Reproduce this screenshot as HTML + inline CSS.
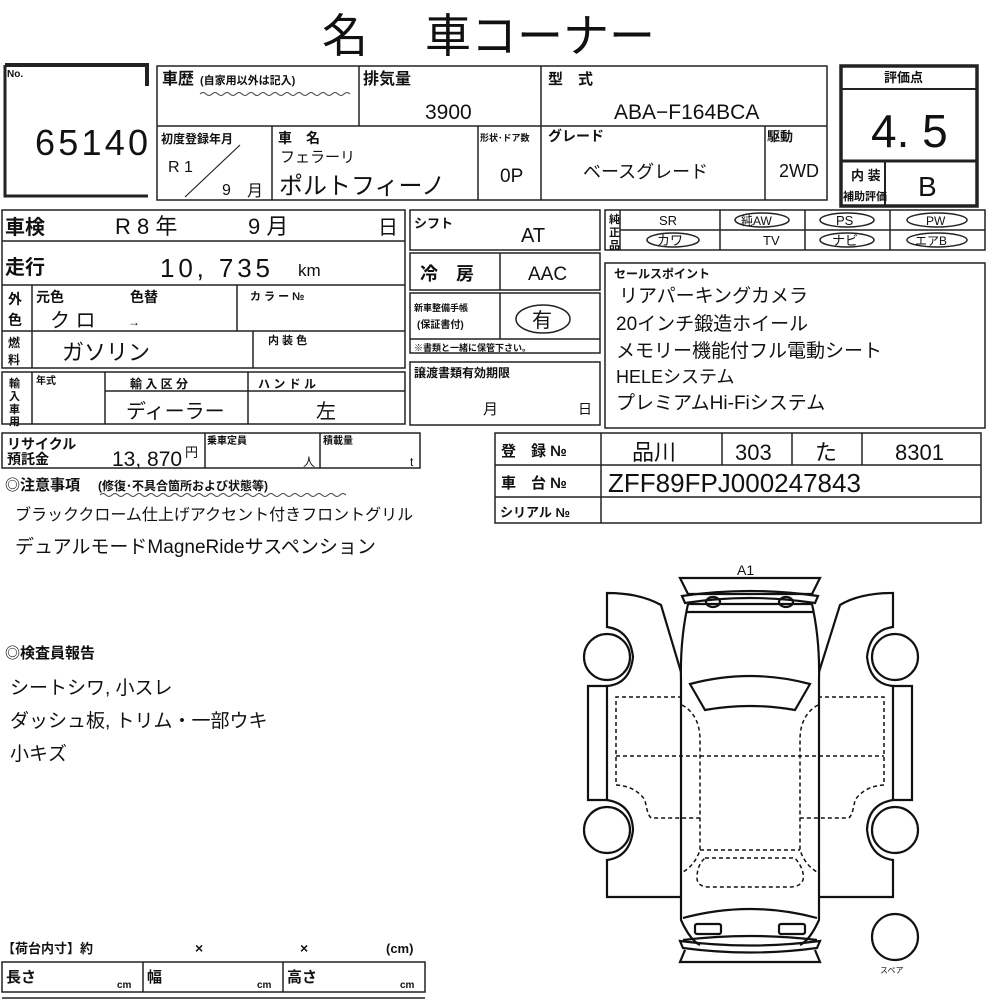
<!DOCTYPE html>
<html><head><meta charset="utf-8"><style>
html,body{margin:0;padding:0;background:#fff;}
svg{display:block}
text{font-family:"Liberation Sans","Noto Sans CJK JP",sans-serif;fill:#111}
.b{font-weight:bold}
</style></head><body>
<svg width="1000" height="1000" viewBox="0 0 1000 1000" xmlns="http://www.w3.org/2000/svg">
<g stroke="#222" fill="none" stroke-width="1.5">
<path d="M5 65 H147 V86" stroke-width="4"/>
<path d="M5 65 V196 H148" stroke-width="3"/>
<rect x="157" y="66" width="670" height="134"/>
<line x1="157" y1="126" x2="827" y2="126"/>
<line x1="359" y1="66" x2="359" y2="126"/>
<line x1="541" y1="66" x2="541" y2="200"/>
<line x1="272" y1="126" x2="272" y2="200"/>
<line x1="478" y1="126" x2="478" y2="200"/>
<line x1="765" y1="126" x2="765" y2="200"/>
<line x1="185" y1="197" x2="240" y2="145" stroke-width="1.2"/>
<rect x="841" y="66" width="136" height="140" stroke-width="3.5"/>
<line x1="841" y1="89" x2="977" y2="89" stroke-width="2"/>
<line x1="841" y1="161" x2="977" y2="161" stroke-width="3"/>
<line x1="885" y1="161" x2="885" y2="206" stroke-width="2"/>
<rect x="2" y="210" width="403" height="158"/>
<line x1="2" y1="241" x2="405" y2="241"/>
<line x1="2" y1="285" x2="405" y2="285"/>
<line x1="2" y1="331" x2="405" y2="331"/>
<line x1="32" y1="285" x2="32" y2="368"/>
<line x1="237" y1="285" x2="237" y2="331"/>
<line x1="253" y1="331" x2="253" y2="368"/>
<rect x="2" y="372" width="403" height="52"/>
<line x1="32" y1="372" x2="32" y2="424"/>
<line x1="105" y1="372" x2="105" y2="424"/>
<line x1="248" y1="372" x2="248" y2="424"/>
<line x1="105" y1="391" x2="405" y2="391"/>
<rect x="410" y="210" width="190" height="40"/>
<rect x="410" y="253" width="190" height="37"/>
<line x1="500" y1="253" x2="500" y2="290"/>
<rect x="410" y="293" width="190" height="60"/>
<line x1="410" y1="339" x2="600" y2="339"/>
<line x1="500" y1="293" x2="500" y2="339"/>
<ellipse cx="543" cy="319" rx="27" ry="14"/>
<rect x="410" y="362" width="190" height="63"/>
<rect x="605" y="210" width="380" height="40"/>
<line x1="620" y1="230" x2="985" y2="230"/>
<line x1="620" y1="210" x2="620" y2="250"/>
<line x1="720" y1="210" x2="720" y2="250"/>
<line x1="805" y1="210" x2="805" y2="250"/>
<line x1="890" y1="210" x2="890" y2="250"/>
<ellipse cx="762" cy="220" rx="27" ry="7"/>
<ellipse cx="847" cy="220" rx="27" ry="7"/>
<ellipse cx="937" cy="220" rx="30" ry="7"/>
<ellipse cx="673" cy="240" rx="26" ry="7"/>
<ellipse cx="847" cy="240" rx="27" ry="7"/>
<ellipse cx="937" cy="240" rx="30" ry="7"/>
<rect x="605" y="263" width="380" height="165"/>
<rect x="2" y="433" width="418" height="35"/>
<line x1="205" y1="433" x2="205" y2="468"/>
<line x1="320" y1="433" x2="320" y2="468"/>
<rect x="495" y="433" width="486" height="90"/>
<line x1="495" y1="465" x2="981" y2="465"/>
<line x1="495" y1="497" x2="981" y2="497"/>
<line x1="601" y1="433" x2="601" y2="523"/>
<line x1="722" y1="433" x2="722" y2="465"/>
<line x1="792" y1="433" x2="792" y2="465"/>
<line x1="862" y1="433" x2="862" y2="465"/>
<rect x="2" y="962" width="423" height="30"/>
<line x1="143" y1="962" x2="143" y2="992"/>
<line x1="283" y1="962" x2="283" y2="992"/>
<line x1="2" y1="998" x2="425" y2="998"/>
</g>
<path d="M200 94 q3 -3 6 0 t6 0 t6 0 t6 0 t6 0 t6 0 t6 0 t6 0 t6 0 t6 0 t6 0 t6 0 t6 0 t6 0 t6 0 t6 0 t6 0 t6 0 t6 0 t6 0 t6 0 t6 0 t6 0 t6 0 t6 0" stroke="#444" fill="none" stroke-width="1"/>
<path d="M100 495 q3 -3 6 0 t6 0 t6 0 t6 0 t6 0 t6 0 t6 0 t6 0 t6 0 t6 0 t6 0 t6 0 t6 0 t6 0 t6 0 t6 0 t6 0 t6 0 t6 0 t6 0 t6 0 t6 0 t6 0 t6 0 t6 0 t6 0 t6 0 t6 0 t6 0 t6 0 t6 0 t6 0 t6 0 t6 0 t6 0 t6 0 t6 0 t6 0 t6 0 t6 0 t6 0" stroke="#444" fill="none" stroke-width="1"/>

<text x="322" y="52" font-size="46">名</text>
<text x="425" y="52" font-size="46">車コーナー</text>
<text x="7" y="77" font-size="10" class="b">No.</text>
<text x="35" y="155" font-size="36" textLength="113">65140</text>
<text x="162" y="84" font-size="16" class="b">車歴</text>
<text x="200" y="84" font-size="11" class="b">(自家用以外は記入)</text>
<text x="363" y="84" font-size="16" class="b">排気量</text>
<text x="425" y="119" font-size="21">3900</text>
<text x="548" y="84" font-size="15" class="b">型　式</text>
<text x="614" y="119" font-size="21">ABA−F164BCA</text>
<text x="161" y="143" font-size="12" class="b">初度登録年月</text>
<text x="168" y="172" font-size="16">R 1</text>
<text x="222" y="195" font-size="16">9</text>
<text x="247" y="196" font-size="16">月</text>
<text x="278" y="143" font-size="14" class="b">車　名</text>
<text x="280" y="162" font-size="15">フェラーリ</text>
<text x="279" y="194" font-size="24">ポルトフィーノ</text>
<text x="480" y="141" font-size="9" class="b">形状･ドア数</text>
<text x="500" y="182" font-size="19">0P</text>
<text x="548" y="141" font-size="14" class="b">グレード</text>
<text x="583" y="178" font-size="18">ベースグレード</text>
<text x="767" y="141" font-size="13" class="b">駆動</text>
<text x="779" y="177" font-size="18">2WD</text>
<text x="884" y="82" font-size="13" class="b">評価点</text>
<text x="871" y="147" font-size="46">4. 5</text>
<text x="851" y="180" font-size="13" class="b">内 装</text>
<text x="843" y="200" font-size="11" class="b">補助評価</text>
<text x="918" y="196" font-size="28">B</text>

<text x="5" y="234" font-size="20" class="b">車検</text>
<text x="115" y="234" font-size="22">R 8 年</text>
<text x="248" y="234" font-size="22">9 月</text>
<text x="378" y="234" font-size="20">日</text>
<text x="5" y="274" font-size="20" class="b">走行</text>
<text x="160" y="277" font-size="26" textLength="110">10, 735</text>
<text x="298" y="276" font-size="17">km</text>
<text x="8" y="304" font-size="14" class="b">外</text>
<text x="8" y="325" font-size="14" class="b">色</text>
<text x="36" y="302" font-size="14" class="b">元色</text>
<text x="130" y="302" font-size="14" class="b">色替</text>
<text x="50" y="327" font-size="20">ク ロ</text>
<text x="128" y="326" font-size="12">→</text>
<text x="250" y="300" font-size="11" class="b">カ ラ ー №</text>
<text x="8" y="347" font-size="12" class="b">燃</text>
<text x="8" y="364" font-size="12" class="b">料</text>
<text x="62" y="360" font-size="22">ガソリン</text>
<text x="268" y="344" font-size="11" class="b">内 装 色</text>
<text x="9" y="387" font-size="11" class="b">輸</text>
<text x="9" y="400" font-size="11" class="b">入</text>
<text x="9" y="413" font-size="11" class="b">車</text>
<text x="9" y="425" font-size="11" class="b">用</text>
<text x="36" y="384" font-size="10" class="b">年式</text>
<text x="130" y="388" font-size="12" class="b">輸 入 区 分</text>
<text x="258" y="388" font-size="12" class="b">ハ ン ド ル</text>
<text x="126" y="418" font-size="20">ディーラー</text>
<text x="316" y="418" font-size="20">左</text>

<text x="414" y="228" font-size="13" class="b">シフト</text>
<text x="521" y="242" font-size="20">AT</text>
<text x="420" y="280" font-size="18" class="b">冷　房</text>
<text x="528" y="280" font-size="19">AAC</text>
<text x="414" y="311" font-size="9" class="b">新車整備手帳</text>
<text x="417" y="328" font-size="10" class="b">(保証書付)</text>
<text x="532" y="327" font-size="20">有</text>
<text x="414" y="351" font-size="9" class="b">※書類と一緒に保管下さい。</text>
<text x="414" y="377" font-size="12" class="b">譲渡書類有効期限</text>
<text x="483" y="414" font-size="15">月</text>
<text x="578" y="414" font-size="14">日</text>

<text x="609" y="223" font-size="11" class="b">純</text>
<text x="609" y="236" font-size="11" class="b">正</text>
<text x="609" y="249" font-size="11" class="b">品</text>
<text x="659" y="225" font-size="13">SR</text>
<text x="741" y="225" font-size="12">純AW</text>
<text x="836" y="225" font-size="13">PS</text>
<text x="926" y="225" font-size="12">PW</text>
<text x="657" y="245" font-size="13">カワ</text>
<text x="763" y="245" font-size="13">TV</text>
<text x="832" y="245" font-size="13">ナビ</text>
<text x="915" y="245" font-size="12">エアB</text>
<text x="614" y="278" font-size="12" class="b">セールスポイント</text>
<text x="619" y="302" font-size="19">リアパーキングカメラ</text>
<text x="616" y="330" font-size="19">20インチ鍛造ホイール</text>
<text x="616" y="357" font-size="19">メモリー機能付フル電動シート</text>
<text x="616" y="383" font-size="18">HELEシステム</text>
<text x="616" y="409" font-size="19">プレミアムHi-Fiシステム</text>

<text x="7" y="449" font-size="14" class="b">リサイクル</text>
<text x="7" y="464" font-size="14" class="b">預託金</text>
<text x="112" y="466" font-size="21">13, 870</text>
<text x="185" y="457" font-size="13">円</text>
<text x="207" y="444" font-size="10" class="b">乗車定員</text>
<text x="303" y="466" font-size="12">人</text>
<text x="323" y="444" font-size="10" class="b">積載量</text>
<text x="410" y="466" font-size="12">t</text>
<text x="501" y="456" font-size="15" class="b">登　録 №</text>
<text x="501" y="488" font-size="15" class="b">車　台 №</text>
<text x="500" y="517" font-size="13" class="b">シリアル №</text>
<text x="632" y="460" font-size="22">品川</text>
<text x="735" y="460" font-size="22">303</text>
<text x="815" y="460" font-size="22">た</text>
<text x="895" y="460" font-size="22">8301</text>
<text x="608" y="492" font-size="26">ZFF89FPJ000247843</text>

<text x="5" y="490" font-size="15" class="b">◎注意事項</text>
<text x="98" y="490" font-size="12" class="b">(修復･不具合箇所および状態等)</text>
<text x="15" y="520" font-size="16">ブラッククローム仕上げアクセント付きフロントグリル</text>
<text x="15" y="553" font-size="19">デュアルモードMagneRideサスペンション</text>

<text x="5" y="658" font-size="15" class="b">◎検査員報告</text>
<text x="10" y="694" font-size="19">シートシワ, 小スレ</text>
<text x="10" y="727" font-size="19">ダッシュ板, トリム・一部ウキ</text>
<text x="10" y="760" font-size="19">小キズ</text>

<text x="2" y="953" font-size="13" class="b">【荷台内寸】約</text>
<text x="195" y="953" font-size="14" class="b">×</text>
<text x="300" y="953" font-size="14" class="b">×</text>
<text x="386" y="953" font-size="13" class="b">(cm)</text>
<text x="6" y="982" font-size="15" class="b">長さ</text>
<text x="117" y="988" font-size="10" class="b">cm</text>
<text x="147" y="982" font-size="15" class="b">幅</text>
<text x="257" y="988" font-size="10" class="b">cm</text>
<text x="287" y="982" font-size="15" class="b">高さ</text>
<text x="400" y="988" font-size="10" class="b">cm</text>

<text x="737" y="575" font-size="14">A1</text>
<g stroke="#111" fill="none" stroke-width="2.2">
<path d="M680 578 H820 L812 594 H688 Z"/>
<path d="M682 596 Q750 586 818 596 L815 603 Q750 593 685 603 Z"/>
<ellipse cx="713" cy="602" rx="7" ry="5"/>
<ellipse cx="786" cy="602" rx="7" ry="5"/>
<path d="M688 604 H812"/>
<path d="M686 612 H814"/>
<path d="M688 604 Q680 640 681 680 L681 920 Q690 940 700 945"/>
<path d="M812 604 Q820 640 819 680 L819 920 Q810 940 800 945"/>
<path d="M690 684 Q750 668 810 684 L795 710 Q750 702 705 710 Z"/>
<path d="M683 918 Q750 900 817 918"/>
<path d="M683 940 Q750 932 817 940"/>
<rect x="695" y="924" width="26" height="10" rx="2"/>
<rect x="779" y="924" width="26" height="10" rx="2"/>
<path d="M680 941 Q750 950 820 941 L817 948 Q750 957 683 948 Z"/>
<path d="M685 950 L680 962 H820 L815 950"/>
<path d="M681 672 L661 605 Q640 593 607 593 V627 Q630 630 633 657 Q630 684 607 686 V687"/>
<path d="M588 686 H607 V800 H588 Z"/>
<path d="M607 800 Q632 804 633 830 Q630 857 607 860 V897 H681"/>
<circle cx="607" cy="657" r="23"/>
<circle cx="607" cy="830" r="23"/>
<path d="M819 672 L840 605 Q860 593 893 593 V627 Q870 630 867 657 Q870 684 893 686 V687"/>
<path d="M893 686 H912 V800 H893 Z"/>
<path d="M893 800 Q868 804 867 830 Q870 857 893 860 V897 H819"/>
<circle cx="895" cy="657" r="23"/>
<circle cx="895" cy="830" r="23"/>
<circle cx="895" cy="937" r="23"/>
</g>
<g stroke="#111" fill="none" stroke-width="1.5" stroke-dasharray="4,3">
<path d="M682 697 H616 V785 Q635 786 645 800 Q648 818 652 818 H700"/>
<path d="M818 697 H884 V785 Q865 786 855 800 Q852 818 848 818 H800"/>
<path d="M616 756 H884"/>
<path d="M682 705 Q700 715 700 740 V850 Q695 865 683 872"/>
<path d="M818 705 Q800 715 800 740 V850 Q805 865 817 872"/>
<path d="M700 850 H800"/>
<path d="M705 858 H795 Q805 870 803 880 Q800 887 790 887 H710 Q697 887 697 878 Q697 865 705 858 Z"/>
</g>
<text x="880" y="973" font-size="8">スペア</text>
</svg>
</body></html>
